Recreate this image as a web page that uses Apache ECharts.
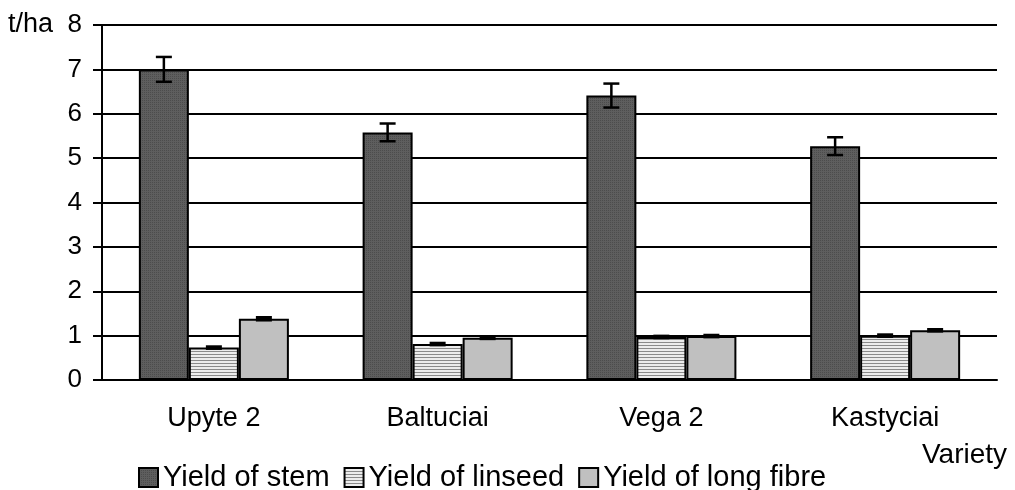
<!DOCTYPE html>
<html>
<head>
<meta charset="utf-8">
<script src="https://cdn.jsdelivr.net/npm/echarts@6/dist/echarts.min.js"></script>
<style>
  html, body { margin: 0; padding: 0; background: #fff; }
  #chart { width: 1015px; height: 490px; }
</style>
</head>
<body>
<div id="chart"></div>
<script>
const varieties = ["Upyte 2", "Baltuciai", "Vega 2", "Kastyciai"];
const seriesNames = ["Yield of stem", "Yield of linseed", "Yield of long fibre"];
const stem = [7.0, 5.58, 6.41, 5.27];
const linseed = [0.73, 0.81, 0.97, 1.0];
const fibre = [1.38, 0.95, 0.99, 1.12];
const stemErr = [0.28, 0.2, 0.27, 0.2];
const linseedErr = [0.03, 0.03, 0.03, 0.03];
const fibreErr = [0.04, 0.03, 0.03, 0.03];
const yTicks = [0, 1, 2, 3, 4, 5, 6, 7, 8];

const FONT = "Liberation Sans, Arial, sans-serif";

// textures for the bars
function makePattern(w, h, draw) {
  const c = document.createElement("canvas");
  c.width = w;
  c.height = h;
  draw(c.getContext("2d"));
  return { image: c, repeat: "repeat" };
}
const stemFill = makePattern(2, 2, (ctx) => {
  ctx.fillStyle = "#5e5e5e";
  ctx.fillRect(0, 0, 2, 2);
  ctx.fillStyle = "#4c4c4c";
  ctx.fillRect(0, 0, 1, 1);
});
const linseedFill = makePattern(4, 3, (ctx) => {
  ctx.fillStyle = "#ececec";
  ctx.fillRect(0, 0, 4, 3);
  ctx.fillStyle = "#8a8a8a";
  ctx.fillRect(0, 0, 4, 1);
});
const fills = [stemFill, linseedFill, "#c0c0c0"];
const values = [stem, linseed, fibre];
const errors = [stemErr, linseedErr, fibreErr];

const chart = echarts.init(document.getElementById("chart"));

const barW = 0.2235;
let series = [];
values.forEach((vals, i) => {
  series.push({
    name: seriesNames[i],
    type: "bar",
    data: vals,
    barWidth: (barW * 100) + "%",
    barGap: "0%",
    itemStyle: { color: fills[i], borderColor: "#000", borderWidth: 2 },
    z: 2,
  });
});
values.forEach((vals, i) => {
  // error bars drawn over each bar
  series.push({
    type: "custom",
    name: "err" + i,
    data: vals.map((v, k) => [k, v - errors[i][k], v + errors[i][k]]),
    z: 5,
    silent: true,
    renderItem: (params, api) => {
      const band = api.size([1, 0])[0];
      const off = (i - 1) * barW * band;
      const lo = api.coord([api.value(0), api.value(1)]);
      const hi = api.coord([api.value(0), api.value(2)]);
      const x = lo[0] + off;
      const cap = 8;
      const style = { stroke: "#000", lineWidth: 2.5 };
      const small = lo[1] - hi[1] < 6;
      if (small) {
        return {
          type: "rect",
          shape: { x: x - cap, y: hi[1] - 1, width: cap * 2, height: lo[1] - hi[1] + 2 },
          style: { fill: "#000" },
        };
      }
      return {
        type: "group",
        children: [
          { type: "line", shape: { x1: x, y1: hi[1], x2: x, y2: lo[1] }, style },
          { type: "line", shape: { x1: x - cap, y1: hi[1], x2: x + cap, y2: hi[1] }, style },
          { type: "line", shape: { x1: x - cap, y1: lo[1], x2: x + cap, y2: lo[1] }, style },
        ],
      };
    },
  });
});

let option = {
  animation: false,
  textStyle: { fontFamily: FONT },
  grid: { left: 102, right: 18, top: 25, bottom: 110 },
  legend: {
    data: seriesNames,
    left: 133,
    top: 458,
    itemWidth: 19,
    itemHeight: 19,
    itemGap: 14,
    icon: "rect",
    itemStyle: { borderColor: "#000", borderWidth: 2 },
    textStyle: { fontSize: 29, color: "#000", padding: [0, 0, 0, 0] },
  },
  xAxis: {
    type: "category",
    data: varieties,
    axisLine: { lineStyle: { color: "#000", width: 2 } },
    axisTick: { length: 8, lineStyle: { color: "#000", width: 2 } },
    axisLabel: { fontSize: 27, color: "#000", margin: 25 },
  },
  yAxis: {
    type: "value",
    min: yTicks[0],
    max: yTicks[yTicks.length - 1],
    interval: 1,
    axisLine: { show: true, lineStyle: { color: "#000", width: 2 } },
    axisTick: { show: true, length: 9, lineStyle: { color: "#000", width: 2 } },
    axisLabel: { fontSize: 26, color: "#000", margin: 20 },
    splitLine: { lineStyle: { color: "#000", width: 2 } },
  },
  graphic: [
    {
      type: "text",
      left: 8,
      top: 11,
      style: { text: "t/ha", fontSize: 27, fill: "#000", fontFamily: FONT },
    },
    {
      type: "text",
      left: 922,
      top: 441,
      style: { text: "Variety", fontSize: 28, fill: "#000", fontFamily: FONT },
    },
  ],
  series: series,
};
chart.setOption(option);
</script>
</body>
</html>
